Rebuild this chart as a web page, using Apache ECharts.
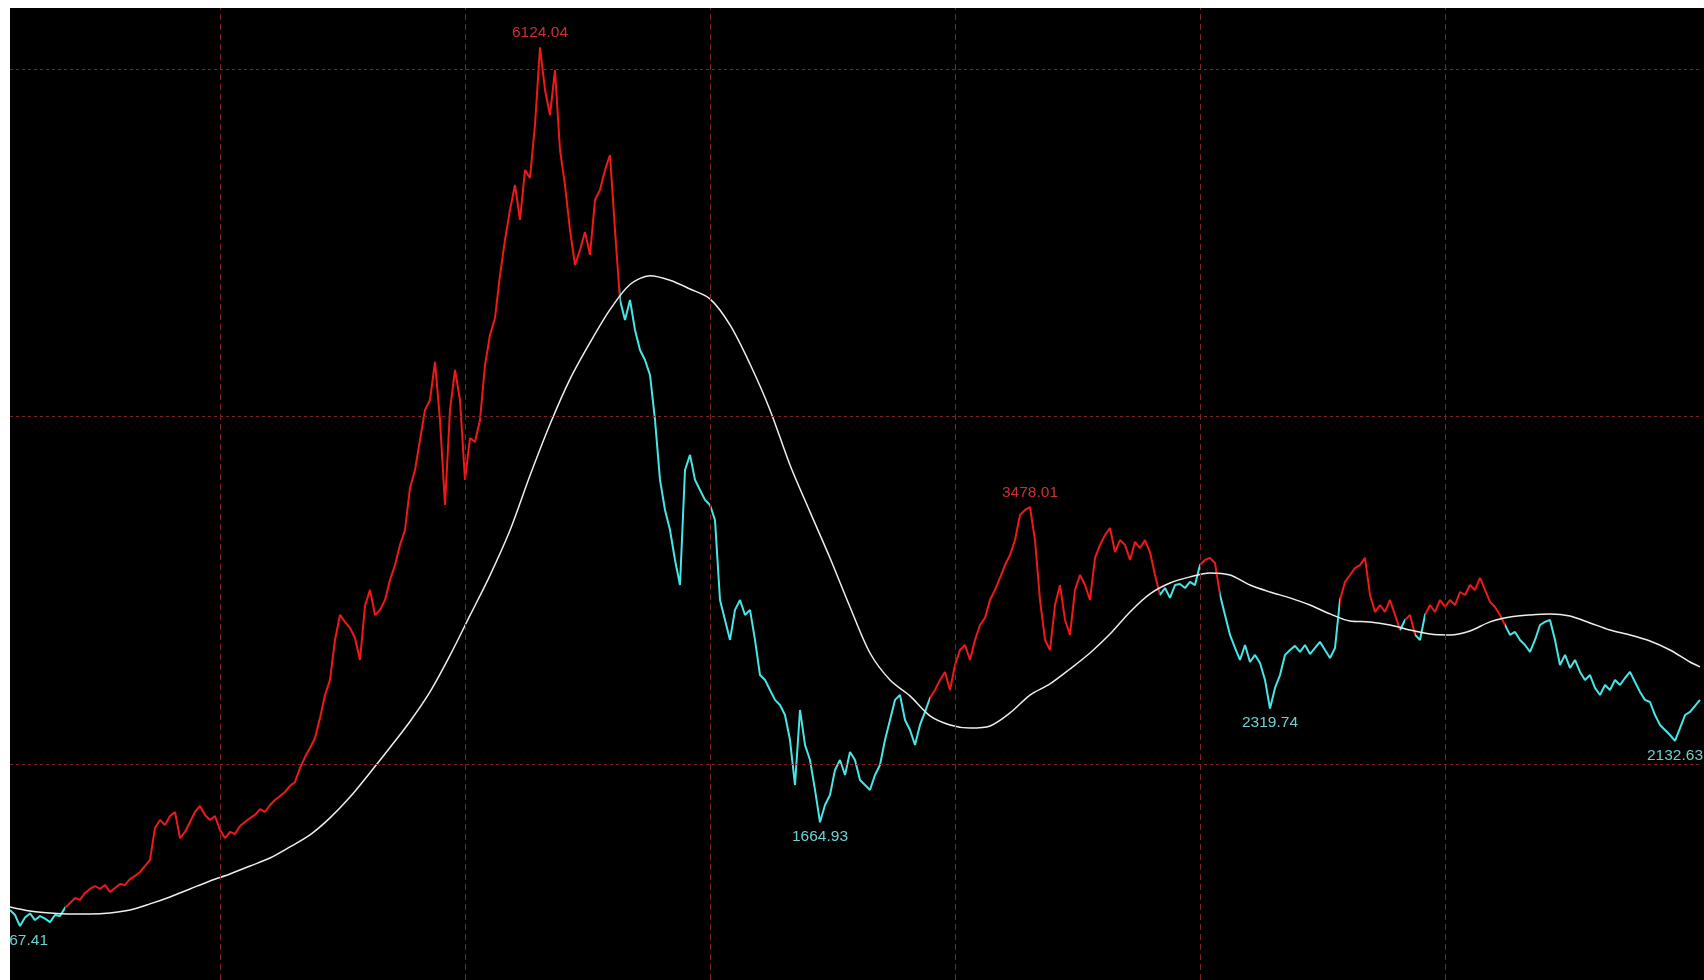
<!DOCTYPE html>
<html><head><meta charset="utf-8">
<script src="https://cdn.jsdelivr.net/npm/echarts@6/dist/echarts.min.js"></script>
<style>
html,body{margin:0;padding:0;background:#fff;width:1704px;height:980px;overflow:hidden}
#chart{position:absolute;left:10px;top:8px;width:1694px;height:972px;background:#000}
</style></head><body><div id="chart"></div>
<script>
// Index closing values, one sample every ~5 px of the original chart
const price = [
1160,1131,1067.41,1117,1140,1102,1125,1110,1090,1131, 1125,1172,1200,1229,1218,1258,1281,1298,1281,1304,
1264,1287,1310,1304,1338,1356,1379,1413,1448,1632, 1678,1649,1701,1724,1574,1609,1666,1724,1759,1707,
1678,1701,1620,1574,1609,1597,1643,1666,1689,1707, 1741,1724,1764,1793,1816,1839,1874,1897,1977,2040,
2092,2150,2265,2397,2484,2714,2858,2818,2783,2725, 2599,2910,3002,2858,2887,2944,3059,3145,3261,3347,
3589,3692,3865,4038,4095,4314,3980,3491,4038,4268, 4095,3635,3876,3853,3980,4296,4469,4567,4814,5016,
5189,5332,5131,5419,5373,5678,6124.04,5879,5735,5994, 5534,5332,5073,4872,4958,5062,4930,5246,5304,5419,
5505,5073,4671,4555,4671,4498,4383,4325,4239,3980, 3635,3462,3347,3174,3030,3692,3779,3635,3577,3520,
3491,3404,2944,2829,2714,2887,2944,2858,2887,2714, 2512,2484,2426,2369,2340,2282,2138,1879,2311,2110,
2023,1851,1664.93,1764,1822,1966,2023,1937,2069,2023, 1908,1879,1851,1937,1994,2138,2253,2369,2397,2253,
2196,2110,2225,2300,2380,2426,2484,2530,2426,2570, 2656,2685,2599,2714,2800,2841,2944,3002,3071,3145,
3203,3289,3433,3462,3478.01,3289,2944,2714,2656,2915, 3030,2829,2743,3002,3088,3030,2944,3186,3261,3318,
3358,3220,3289,3261,3174,3278,3243,3289,3220,3088, 2973,3013,2956,3030,3036,3013,3048,3030,3145,3174,
3186,3157,2973,2858,2743,2668,2599,2685,2587,2628, 2581,2484,2319.74,2438,2512,2628,2656,2680,2645,2685,
2633,2668,2703,2656,2610,2668,2944,3048,3088,3128, 3145,3186,2973,2875,2915,2875,2944,2858,2771,2829,
2858,2745,2714,2858,2915,2875,2944,2904,2944,2915, 2990,2973,3030,3002,3071,3002,2933,2904,2858,2800,
2743,2760,2714,2685,2645,2714,2800,2818,2829,2714, 2570,2628,2553,2599,2530,2484,2512,2438,2397,2455,
2426,2484,2455,2495,2530,2472,2415,2369,2357,2282, 2225,2196,2167,2132.63,2207,2282,2300,2334,2369
];
// Long moving average (white line), one sample every 4 price samples, last one at the end
const ma = [
1177,1154,1143,1137,1137,1143,1160,1195,1235,1281,
1327,1367,1413,1459,1523,1592,1690,1810,1950,2095,
2245,2415,2625,2855,3086,3345,3660,3955,4215,4425,
4615,4760,4810,4784,4734,4677,4527,4302,4038,3721,
3451,3186,2904,2639,2484,2392,2277,2225,2207,2219,
2294,2397,2461,2547,2639,2748,2875,2979,3042,3077,
3100,3088,3030,2990,2956,2915,2864,2823,2818,2800,
2771,2748,2743,2766,2818,2846,2858,2864,2852,2812,
2771,2743,2708,2656,2587,2559
];
const peakLabels = [6124.04, 3478.01];
const troughLabels = [1067.41, 1664.93, 2319.74, 2132.63];
const hLines = [2000, 4000, 6000];
const vLines = [42, 91, 140, 189, 238, 287];

const N = price.length;
const categories = price.map((_, i) => String(i));
const maIdx = ma.map((_, k) => (k < ma.length - 1 ? k * 4 : N - 1));
const maData = new Array(N).fill(null);
ma.forEach((v, k) => { maData[maIdx[k]] = v; });
function maAt(i) {
  for (let k = 0; k < maIdx.length - 1; k++) {
    if (i >= maIdx[k] && i <= maIdx[k + 1]) {
      const t = (i - maIdx[k]) / (maIdx[k + 1] - maIdx[k]);
      return ma[k] + t * (ma[k + 1] - ma[k]);
    }
  }
  return ma[ma.length - 1];
}
const UP = '#f01818', DOWN = '#46e6e6';
const pieces = [];
let start = 0, state = price[0] >= maAt(0);
for (let i = 1; i <= N; i++) {
  const s = i < N ? price[i] >= maAt(i) : null;
  if (i === N || s !== state) {
    pieces.push({ gte: start - 0.5, lt: i - 0.5, color: state ? UP : DOWN });
    start = i; state = s;
  }
}
const font = "'Liberation Sans', Arial, sans-serif";
const markData = [];
peakLabels.forEach(v => markData.push({ coord: [price.indexOf(v), v], value: v,
  label: { position: 'top', color: '#c83232' } }));
troughLabels.forEach(v => markData.push({ coord: [price.indexOf(v), v], value: v,
  label: { position: 'bottom', color: '#6fd0d0' } }));

const chart = echarts.init(document.getElementById('chart'));
chart.setOption({
  backgroundColor: '#000',
  animation: false,
  grid: { left: 0, right: 4, top: 0, bottom: 0 },
  xAxis: { type: 'category', data: categories, boundaryGap: false,
    axisLine: { show: false }, axisTick: { show: false }, axisLabel: { show: false }, splitLine: { show: false } },
  yAxis: { type: 'value', min: 757, max: 6351,
    axisLine: { show: false }, axisTick: { show: false }, axisLabel: { show: false }, splitLine: { show: false } },
  visualMap: { type: 'piecewise', show: false, dimension: 0, seriesIndex: 1, pieces: pieces,
    outOfRange: { color: DOWN } },
  series: [
    { type: 'line', data: [], z: 1, silent: true,
      markLine: { silent: true, symbol: ['none', 'none'], label: { show: false },
        lineStyle: { color: '#7d2323', width: 1 },
        data: hLines.map(v => ({ yAxis: v, lineStyle: { type: [3, 3], color: '#7d2323', width: 1 } }))
          .concat(vLines.map(v => ({ xAxis: v, lineStyle: { type: [6, 4], color: '#7d2323', width: 1 } }))) } },
    { type: 'line', data: price, z: 3, showSymbol: false, lineStyle: { width: 2 },
      markPoint: { symbol: 'circle', symbolSize: 1, itemStyle: { color: 'rgba(0,0,0,0)' },
        label: { show: true, fontFamily: font, fontSize: 15.5, distance: 6,
          formatter: p => Number(p.value).toFixed(2) },
        data: markData } },
    { type: 'line', data: maData, z: 4, connectNulls: true, smooth: 0.3, showSymbol: false,
      lineStyle: { color: '#eeeeee', width: 1.5 } }
  ]
});
</script></body></html>
